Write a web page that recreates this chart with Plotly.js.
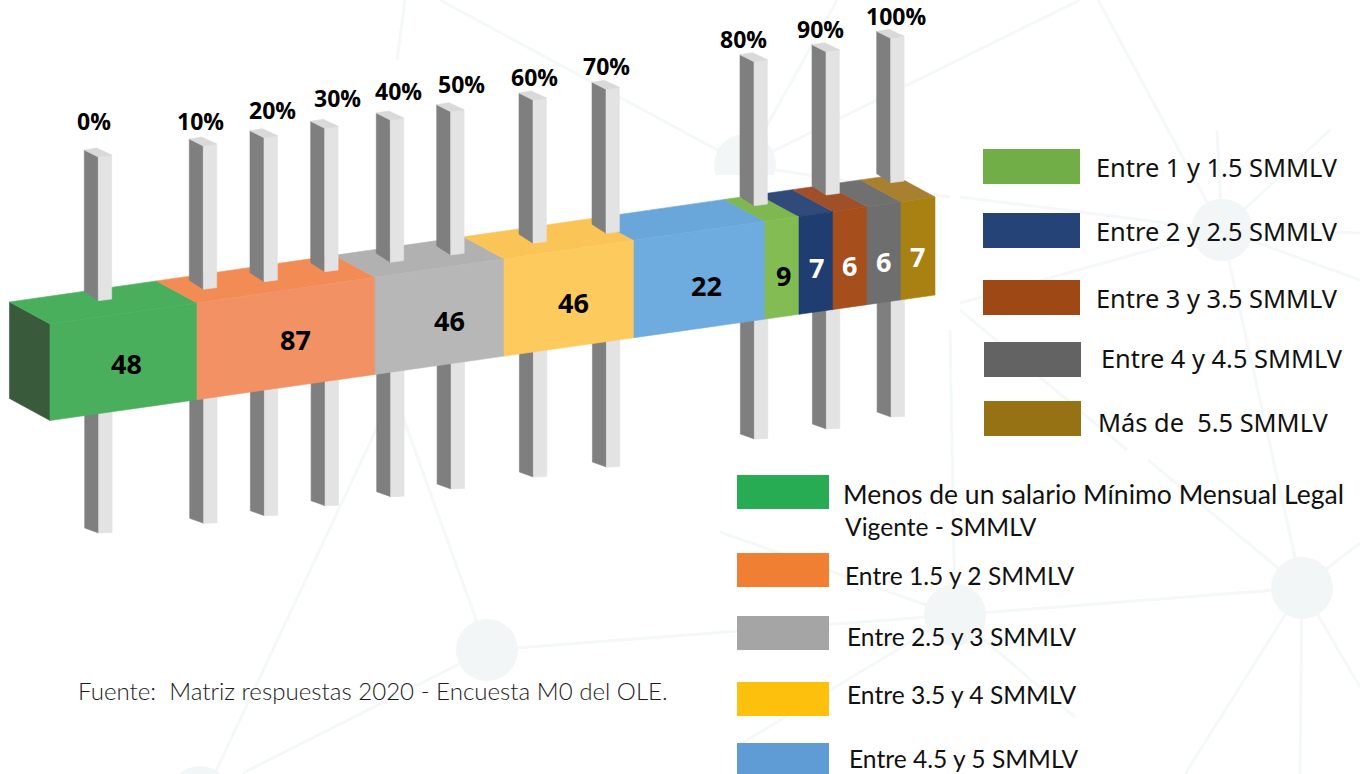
<!DOCTYPE html>
<html><head><meta charset="utf-8">
<script src="https://cdn.plot.ly/plotly-3.0.1.min.js"></script>
<style>html,body{margin:0;padding:0;background:#fff}#c{width:1360px;height:774px}</style>
</head><body><div id="c"></div>
<script>
// ---- data ----
const segmentValues = [48, 87, 46, 46, 22, 9, 7, 6, 6, 7];
const tickLabels = ["0%","10%","20%","30%","40%","50%","60%","70%","80%","90%","100%"];
const legendRight = ["Entre 1 y 1.5 SMMLV","Entre 2 y 2.5 SMMLV","Entre 3 y 3.5 SMMLV","Entre 4 y 4.5 SMMLV","Más de  5.5 SMMLV"];
const legendLower = ["Menos de un salario Mínimo Mensual Legal","Entre 1.5 y 2 SMMLV","Entre 2.5 y 3 SMMLV","Entre 3.5 y 4 SMMLV","Entre 4.5 y 5 SMMLV"];
const sourceNote = "Fuente:  Matriz respuestas 2020 - Encuesta M0 del OLE.";

// ---- styling and placement ----
const segEdges = [50,197,375,504,634,765,799,833,867,901,935];
const segFront = ["#4aaf5d","#f29264","#b7b7b7","#fdca5e","#6eabdf","#83bc53","#1f3d70","#a64e1c","#6e6e6e","#a98113"];
const segTop   = ["#4aaf5d","#f28c54","#b1b1b1","#fbc457","#69a7da","#7fb850","#304a7a","#9f5028","#707070","#a98030"];
const segInk   = ["#000","#000","#000","#000","#000","#000","#fff","#fff","#fff","#fff"];
const valuePos = [[126,363.5],[295,339.5],[449,320.5],[573,302.5],[706,285.5],[783,275.5],[816,267.5],[849,265.5],[883,261.5],[917,256.5]];
const tickMid  = [98.3,203.3,264,324.7,390.3,450.7,533,606,754,826,890.7];
const tickTop  = [157,146,137.7,128.3,120,111.7,100,89.3,61.7,51.7,38.3];
const tickBase = [300.7,289.3,281.7,271.7,262.3,255,243.3,233.3,205.7,195,182.7];
const tickEnd  = [533,523.3,515.7,505.7,496.7,489,477,467,439,429,417];
const tickText = [[94,120.5],[200,120.5],[272,109.5],[337,97.5],[398,90.5],[461,83.5],[534,76.5],[606,65.5],[743.5,38.5],[820,28.5],[896,15.5]];
const frontTop = x => 324 - 0.1435*(x-50);
const frontBot = x => 420.5 - 0.1418*(x-50);
const depth = [-40.5,-22];

const traces = [];
function poly(pts, color, name){
  traces.push({type:"scatter",mode:"lines",x:[...pts.map(p=>p[0]),pts[0][0]],y:[...pts.map(p=>p[1]),pts[0][1]],
    fill:"toself",fillcolor:color,line:{color:color,width:0.6},hoverinfo:"skip",showlegend:false,name:name||""});
}
// lower pillars sit behind the bar
tickMid.forEach((m,i)=>{
  const s=m+0.4, t=tickBase[i]+60, e=tickEnd[i];
  poly([[s-14,t],[s,t],[s,e],[s-14,e-5]],"#7f7f7f");
  poly([[s,t],[s+13.4,t],[s+13.4,e-0.5],[s,e]],"#e3e3e3");
});
// the bar
poly([[50,frontTop(50)],[50+depth[0],frontTop(50)+depth[1]],[50+depth[0],frontBot(50)+depth[1]],[50,frontBot(50)]],"#3a5a3c");
segmentValues.forEach((v,i)=>{
  const a=segEdges[i], b=segEdges[i+1];
  poly([[a,frontTop(a)],[b,frontTop(b)],[b+depth[0],frontTop(b)+depth[1]],[a+depth[0],frontTop(a)+depth[1]]],segTop[i]);
});
segmentValues.forEach((v,i)=>{
  const a=segEdges[i], b=segEdges[i+1];
  poly([[a,frontTop(a)],[b,frontTop(b)],[b,frontBot(b)],[a,frontBot(a)]],segFront[i]);
});
// upper pillars stand on the bar
tickMid.forEach((m,i)=>{
  const t=tickTop[i], e=tickBase[i];
  poly([[m-14,t-7],[m,t],[m,e],[m-14,e-9]],"#7f7f7f");
  poly([[m,t],[m+13.4,t-2],[m+13.4,e-1.7],[m,e]],"#e3e3e3");
  poly([[m-14,t-7],[m-1.6,t-9],[m+13.4,t-2],[m,t]],"#d9d9d9");
});

const ann = [];
function label(x,y,text,font,anchor){
  ann.push({xref:"x",yref:"y",x,y,text,showarrow:false,xanchor:anchor||"center",yanchor:"middle",font,borderpad:0,borderwidth:0});
}
const tickFont = {family:"Open Sans",size:23,color:"#000",weight:700};
tickLabels.forEach((t,i)=>label(tickText[i][0],tickText[i][1],t,tickFont));
segmentValues.forEach((v,i)=>label(valuePos[i][0],valuePos[i][1],String(v),{family:"Open Sans",size:27,color:segInk[i],weight:700}));

// legends
const shapes = [];
const rect=(x0,y0,x1,y1,c)=>shapes.push({type:"rect",xref:"x",yref:"y",x0,y0,x1,y1,fillcolor:c,line:{width:0},layer:"above"});
const fontR={family:"Noto Sans",size:25.4,color:"#111"};
const fontL={family:"Lato",size:24.6,color:"#111"};
const fontLong={family:"Lato",size:26.5,color:"#111"};
const rightBoxes=[[983,149,184,"#71ae48",1096,166.5],[983,213,248,"#254376",1096,230.5],[983,280,315,"#9e4816",1096,297.5],[984,342,377,"#636363",1101,357.5],[984,401,436,"#967215",1098,421.5]];
legendRight.forEach((t,i)=>{const b=rightBoxes[i];rect(b[0],b[1],b[0]+97,b[2],b[3]);label(b[4],b[5],t,fontR,"left");});
const lowerBoxes=[[475,509,"#27ab53",842.5,493.5],[553,587,"#f07f33",845,575],[616,650,"#a5a5a5",847,636],[682,716,"#fdc00c",847,694],[743,777,"#5f9bd5",849,758]];
legendLower.forEach((t,i)=>{const b=lowerBoxes[i];rect(737,b[0],829,b[1],b[2]);label(b[3],b[4],t,i===0?fontLong:fontL,"left");});
label(845,526,"Vigente - SMMLV",fontL,"left");
label(78,690,sourceNote,{family:"Lato",size:24.1,color:"#1c1c1c",weight:300},"left");

// faint network in the background
const netColor="#f3f6f6", linkColor="#f5f8f8";
const nodes=[[487,650],[955,615],[1302,588],[1222,230],[745,165],[200,797]];
const links=[[487,650,955,615],[955,615,1302,588],[487,650,395,395],[215,773,390,400],[243,773,487,650],
 [1222,230,1302,588],[1222,230,1098,0],[1222,230,1217,130],[1222,230,1330,130],[1222,230,960,303],[1222,230,960,197],[1222,230,1360,233],[1222,230,1360,280],
 [960,310,1127,450],[955,615,950,330],[955,615,720,532],[1148,460,1302,588],[1273,460,1302,588],[1302,588,1360,543],[1302,588,1360,687],[1302,588,1185,774],[1302,588,1300,774],[955,615,1075,717],[955,615,736,747],
 [745,165,440,0],[745,165,837,0],[745,165,1080,0],[745,165,950,197],[397,60,405,0]];
const bg=[];
links.forEach(l=>bg.push({type:"line",xref:"x",yref:"y",x0:l[0],y0:l[1],x1:l[2],y1:l[3],line:{color:linkColor,width:3},layer:"below"}));
nodes.forEach(n=>bg.push({type:"circle",xref:"x",yref:"y",x0:n[0]-31,x1:n[0]+31,y0:n[1]-31,y1:n[1]+31,fillcolor:netColor,line:{width:0},layer:"below"}));
bg.push({type:"rect",xref:"x",yref:"y",x0:700,x1:790,y0:175,y1:210,fillcolor:"#fff",line:{width:0},layer:"below"});

Plotly.newPlot("c",traces,{
  width:1360,height:774,margin:{l:0,r:0,t:0,b:0},paper_bgcolor:"#fff",plot_bgcolor:"rgba(0,0,0,0)",
  showlegend:false,hovermode:false,
  xaxis:{range:[0,1360],visible:false,fixedrange:true},
  yaxis:{range:[774,0],visible:false,fixedrange:true},
  shapes:[...bg,...shapes],annotations:ann
},{displayModeBar:false,staticPlot:true});
</script></body></html>
